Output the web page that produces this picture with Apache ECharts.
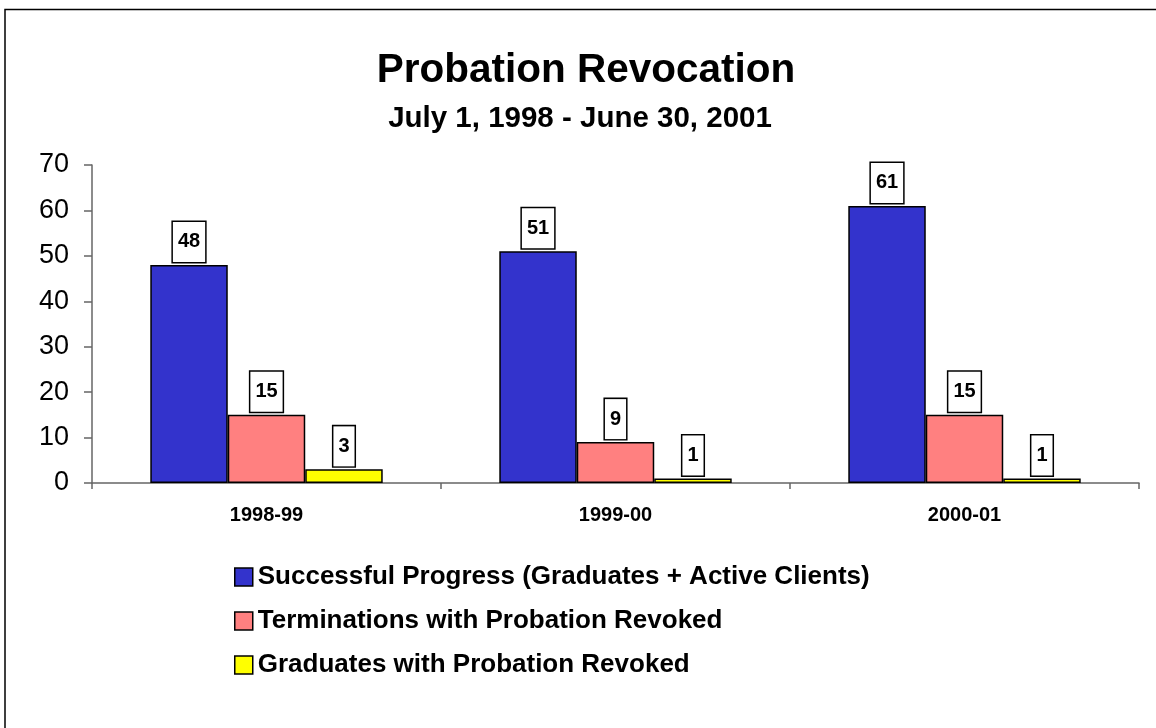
<!DOCTYPE html>
<html>
<head>
<meta charset="utf-8">
<script src="https://cdn.jsdelivr.net/npm/echarts@6/dist/echarts.min.js"></script>
<style>
html,body{margin:0;padding:0;background:#fff;}
#chart{width:1156px;height:728px;}
</style>
</head>
<body>
<div id="chart"></div>
<script>
const categories = ['1998-99', '1999-00', '2000-01'];
const seriesNames = [
  'Successful Progress (Graduates + Active Clients)',
  'Terminations with Probation Revoked',
  'Graduates with Probation Revoked'
];
const successfulProgress = [48, 51, 61];
const terminationsRevoked = [15, 9, 15];
const graduatesRevoked = [3, 1, 1];
const yTicks = [0, 10, 20, 30, 40, 50, 60, 70];

const colors = ['#3333CC', '#FF8080', '#FFFF00'];
const FONT = 'Liberation Sans, Arial, sans-serif';

const chart = echarts.init(document.getElementById('chart'), null, {renderer: 'canvas'});

function makeSeries(name, data, color) {
  return {
    name: name,
    type: 'bar',
    data: data,
    barGap: '0%',
    barCategoryGap: '33.4%',
    itemStyle: {color: color, borderColor: '#000', borderWidth: 1.5},
    label: {
      show: true,
      position: 'top',
      distance: 3,
      fontFamily: FONT,
      fontWeight: 'bold',
      fontSize: 20,
      lineHeight: 20,
      color: '#000',
      backgroundColor: '#fff',
      borderColor: '#000',
      borderWidth: 1.5,
      padding: [10, 5, 10, 5]
    }
  };
}

chart.setOption({
  animation: false,
  backgroundColor: '#fff',
  title: [
    {
      text: 'Probation Revocation',
      left: 581, top: 45, textAlign: 'center',
      textStyle: {fontFamily: FONT, fontWeight: 'bold', fontSize: 40.5, color: '#000'}
    },
    {
      text: 'July 1, 1998 - June 30, 2001',
      left: 575, top: 99, textAlign: 'center',
      textStyle: {fontFamily: FONT, fontWeight: 'bold', fontSize: 29.5, color: '#000'}
    }
  ],
  graphic: [{
    type: 'rect',
    shape: {x: 5, y: 9.5, width: 1300, height: 900},
    style: {fill: 'none', stroke: '#000', lineWidth: 1.5},
    silent: true
  }],
  legend: {
    orient: 'vertical',
    left: 234,
    top: 564,
    padding: 0,
    itemWidth: 18,
    itemHeight: 18,
    itemGap: 18,
    icon: 'rect',
    data: seriesNames,
    itemStyle: {borderColor: '#000', borderWidth: 1.5},
    textStyle: {fontFamily: FONT, fontWeight: 'bold', fontSize: 26, color: '#000'}
  },
  grid: {left: 92, top: 165, right: 17, bottom: 245, containLabel: false},
  xAxis: {
    type: 'category',
    data: categories,
    axisLine: {lineStyle: {color: '#666', width: 1.5}},
    axisTick: {show: true, length: 6, alignWithLabel: false, lineStyle: {color: '#666', width: 1.5}},
    axisLabel: {fontFamily: FONT, fontWeight: 'bold', fontSize: 20, color: '#000', margin: 22},
    splitLine: {show: false}
  },
  yAxis: {
    type: 'value',
    min: yTicks[0],
    max: yTicks[yTicks.length - 1],
    interval: 10,
    axisLine: {show: true, lineStyle: {color: '#666', width: 1.5}},
    axisTick: {show: true, length: 8, lineStyle: {color: '#666', width: 1.5}},
    axisLabel: {fontFamily: FONT, fontSize: 27, color: '#000', margin: 23},
    splitLine: {show: false}
  },
  series: [
    makeSeries(seriesNames[0], successfulProgress, colors[0]),
    makeSeries(seriesNames[1], terminationsRevoked, colors[1]),
    makeSeries(seriesNames[2], graduatesRevoked, colors[2])
  ]
});
</script>
</body>
</html>
